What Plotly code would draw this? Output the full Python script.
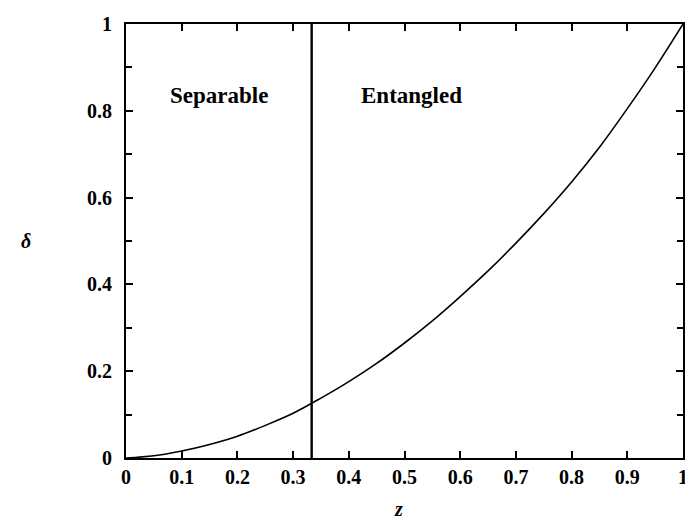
import plotly.graph_objects as go

# data
z_vals = [0.0, 0.05, 0.1, 0.15, 0.2, 0.25, 0.3, 0.35, 0.4, 0.45, 0.5, 0.55,
          0.6, 0.65, 0.7, 0.75, 0.8, 0.85, 0.9, 0.95, 1.0]
delta_vals = [0.0, 0.005, 0.016, 0.031, 0.050, 0.075, 0.103, 0.138, 0.176, 0.218,
              0.265, 0.316, 0.372, 0.431, 0.495, 0.563, 0.636, 0.716, 0.805, 0.899, 1.0]
boundary_z = 1 / 3
region_labels = ["Separable", "Entangled"]
region_label_z = [0.167, 0.512]
region_label_delta = [0.836, 0.836]

FONT = "Liberation Serif"

fig = go.Figure()
fig.add_trace(go.Scatter(x=z_vals, y=delta_vals, mode="lines",
                         line=dict(color="black", width=1.6, shape="spline", smoothing=1.0),
                         showlegend=False, hoverinfo="skip"))
fig.add_trace(go.Scatter(x=[boundary_z, boundary_z], y=[0, 1], mode="lines",
                         line=dict(color="black", width=2.4),
                         showlegend=False, hoverinfo="skip"))
for t, xz, yd in zip(region_labels, region_label_z, region_label_delta):
    fig.add_annotation(x=xz, y=yd, text="<b>%s</b>" % t, showarrow=False,
                       font=dict(family=FONT, size=23, color="black"))

fig.add_annotation(xref="paper", yref="paper", x=(18 - 126) / 562, y=0.5,
                   text="<b><i>δ</i></b>", showarrow=False,
                   font=dict(family=FONT, size=20, color="black"))
fig.add_annotation(xref="paper", yref="paper", x=(401 - 126) / 562, y=-(523 - 458) / 438,
                   text="<b><i>z</i></b>", showarrow=False,
                   font=dict(family=FONT, size=20, color="black"))

axis_common = dict(showgrid=False, zeroline=False, showline=True, linecolor="black",
                   linewidth=2, mirror="allticks", ticks="inside", ticklen=7,
                   tickwidth=1.8, tickcolor="black",
                   tickfont=dict(family=FONT, size=20, color="black"))

fig.update_xaxes(range=[0, 1], tickmode="array",
                 tickvals=[i / 10 for i in range(11)],
                 ticktext=["<b>%s</b>" % s for s in
                           ["0", "0.1", "0.2", "0.3", "0.4", "0.5", "0.6", "0.7", "0.8", "0.9", "1"]],
                 **axis_common)
fig.update_yaxes(range=[0, 1], tickmode="array",
                 tickvals=[0, 0.2, 0.4, 0.6, 0.8, 1.0],
                 ticktext=["<b>%s</b>" % s for s in ["0", "0.2", "0.4", "0.6", "0.8", "1"]],
                 minor=dict(tickmode="array", tickvals=[0.1, 0.3, 0.5, 0.7, 0.9],
                            ticks="inside", ticklen=6, tickwidth=1.8, tickcolor="black"),
                 ticklabelstandoff=8,
                 **axis_common)

# page body has an 8px margin, so the figure is sized to fit the 693x532 window
fig.update_layout(width=685, height=524, margin=dict(l=118, r=5, t=12, b=74),
                  plot_bgcolor="white", paper_bgcolor="white")
fig.write_html("out.html")
